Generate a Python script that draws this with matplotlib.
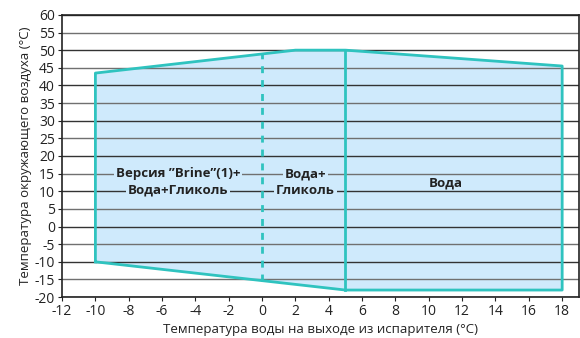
import matplotlib.pyplot as plt

plt.rcParams['font.family'] = ['Open Sans', 'DejaVu Sans']
plt.rcParams['axes.unicode_minus'] = False

# envelope outline (water outlet temp, ambient temp)
env_x = [-10, -10, 2, 5, 18, 18, 5, -10]
env_y = [-10, 43.5, 50, 50, 45.5, -18, -18, -10]

# dividing lines
dash_x = [0, 0]
dash_y = [-15.33, 48.9]
solid_x = [5, 5]
solid_y = [-18, 50]

xticks = list(range(-12, 19, 2))
yticks = list(range(-20, 61, 5))

fill_c = '#cfeafc'
edge_c = '#2fc3bf'

fig = plt.figure(figsize=(5.8, 3.38), dpi=100)
ax = fig.add_axes([0.107, 0.121, 0.891, 0.835])

ax.fill(env_x, env_y, color=fill_c, zorder=1)
for y in yticks:
    ax.axhline(y, color='#333333' if y % 10 == 0 else '#707070', lw=1.0, zorder=2)
ax.plot(env_x, env_y, color=edge_c, lw=2, zorder=3)
ax.plot(dash_x, dash_y, color=edge_c, lw=2, ls=(0, (2.5, 2.5)), zorder=3)
ax.plot(solid_x, solid_y, color=edge_c, lw=2, zorder=3)

box = dict(boxstyle='square,pad=0.15', fc=fill_c, ec='none')
lbl = dict(ha='center', va='center', fontsize=9.5, fontweight='bold', color='#222222', zorder=4)
ax.text(-5.05, 15, 'Версия ”Brine”(1)+', bbox=box, **lbl)
ax.text(-5.05, 10.3, 'Вода+Гликоль', bbox=box, **lbl)
ax.text(2.6, 15, 'Вода+', bbox=box, **lbl)
ax.text(2.6, 10.3, 'Гликоль', bbox=box, **lbl)
ax.text(11, 12.3, 'Вода', **lbl)

ax.set_xlim(-12, 19)
ax.set_ylim(-20, 60)
ax.set_xticks(xticks)
ax.set_yticks(yticks)
ax.tick_params(labelsize=10, length=3, color='#222222', labelcolor='#222222', pad=2)
for s in ax.spines.values():
    s.set_color('#222222')
    s.set_linewidth(1.2)
ax.set_xlabel('Температура воды на выходе из испарителя (°C)',
              fontsize=9.5, color='#222222', labelpad=3)
ax.set_ylabel('Температура окружающего воздуха (°C)',
              fontsize=9.5, color='#222222', labelpad=2)

fig.savefig('out.png', dpi=100)
